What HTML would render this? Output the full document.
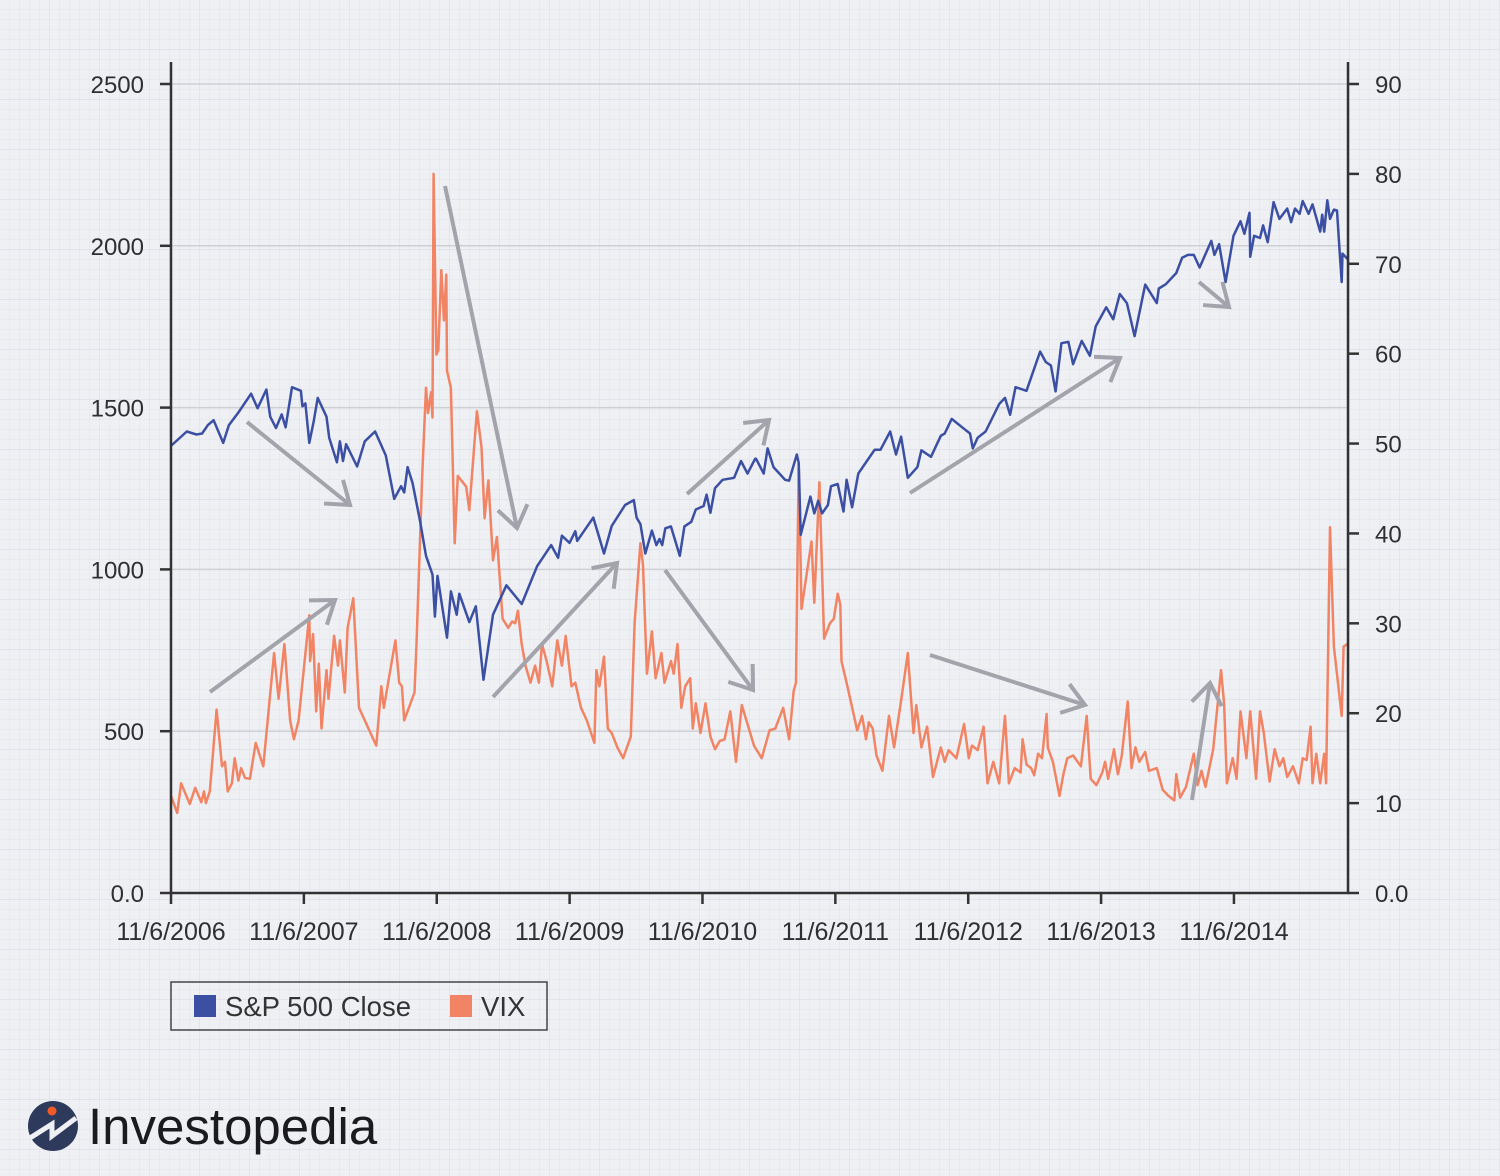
<!DOCTYPE html>
<html><head><meta charset="utf-8">
<style>
html,body{margin:0;padding:0;}
body{width:1500px;height:1176px;overflow:hidden;background:#eff0f4;font-family:"Liberation Sans",sans-serif;}
svg{display:block;}
</style></head>
<body>
<svg id="chart" width="1500" height="1176" viewBox="0 0 1500 1176" xmlns="http://www.w3.org/2000/svg">
<defs>
<pattern id="fine" width="10" height="10" patternUnits="userSpaceOnUse">
<path d="M10 0V10M0 10H10" stroke="#e2e3ea" stroke-width="1" fill="none"/>
</pattern>
<pattern id="coarse" width="50" height="50" patternUnits="userSpaceOnUse">
<path d="M50 0V50M0 50H50" stroke="#dcdde5" stroke-width="1.2" fill="none"/>
</pattern>
</defs>
<rect width="1500" height="1176" fill="#eff0f4"/>
<rect width="1500" height="1176" fill="url(#fine)"/>
<rect width="1500" height="1176" fill="url(#coarse)"/>
<g id="grid"></g>
<g id="series"></g>
<g id="arrows" stroke="#a3a4ab" stroke-width="4" fill="none" stroke-linecap="butt"></g>
<g id="axes"></g>
<g>
<rect x="171" y="982" width="376" height="48" fill="none" stroke="#444" stroke-width="1.5"/>
<rect x="194" y="995" width="22" height="22" fill="#3b4fa3"/>
<text x="225" y="1016" font-size="27.5" fill="#333">S&amp;P 500 Close</text>
<rect x="450" y="995" width="22" height="22" fill="#f08464"/>
<text x="481" y="1016" font-size="27.5" fill="#333">VIX</text>
</g>
<g>
<circle cx="53" cy="1126" r="25" fill="#2e3a5c"/>
<path d="M30 1138 L52 1124 L52 1136 L76 1118" stroke="#eff0f4" stroke-width="5" fill="none"/>
<circle cx="52" cy="1111" r="4.5" fill="#f05a28"/>
<text x="88" y="1144" font-size="51" fill="#1b1b1f">Investopedia</text>
</g>
</svg>
<script>
// Months since 11/6/2006 and S&P 500 close
const spMonths=[0.04,1.43,2.29,2.81,3.33,3.85,4.71,5.23,6.09,7.23,7.82,8.62,8.96,9.48,10.00,10.35,10.93,11.73,11.87,12.14,12.49,12.90,13.25,14.04,14.29,14.98,15.25,15.53,15.81,16.81,17.50,18.43,19.40,20.16,20.78,21.06,21.37,21.82,22.51,23.03,23.62,23.83,24.07,24.93,25.28,25.80,26.04,26.94,27.53,28.22,29.08,30.29,31.67,33.06,34.34,34.96,35.30,35.99,36.51,36.69,38.14,39.11,39.80,41.01,41.80,42.05,42.39,42.84,43.43,43.84,44.12,44.36,44.64,45.15,45.95,46.37,46.99,47.40,48.10,48.37,48.72,49.13,49.82,50.86,51.48,52.07,52.76,52.83,53.53,53.88,54.41,55.46,55.82,56.52,56.69,56.87,57.75,58.10,58.45,58.80,59.33,59.61,60.21,60.74,61.02,61.51,62.07,62.85,63.55,64.08,64.95,65.48,65.94,66.54,67.41,67.77,68.64,69.52,69.88,70.51,71.46,72.16,72.41,72.86,73.57,74.80,75.32,75.78,76.27,77.26,78.49,79.01,79.47,79.89,80.42,81.05,81.47,82.25,82.99,83.51,84.46,85.09,85.69,86.33,87.03,87.98,89.03,89.21,89.84,90.79,91.32,91.84,92.37,92.90,93.95,94.23,94.66,95.25,95.96,96.59,96.94,97.40,97.47,97.82,98.35,98.63,99.05,99.58,100.10,100.81,101.16,101.51,101.93,102.21,102.74,103.09,103.79,103.97,104.15,104.43,104.67,105.03,105.31,105.55,105.73,105.80,106.26];
const spValues=[1383,1426,1417,1420,1446,1461,1391,1446,1485,1543,1498,1556,1472,1437,1479,1439,1563,1552,1504,1513,1391,1459,1530,1472,1407,1331,1396,1335,1387,1318,1396,1426,1352,1218,1257,1238,1316,1266,1147,1042,984,854,980,789,932,860,925,837,886,659,860,951,893,1010,1075,1036,1104,1082,1118,1088,1160,1049,1134,1199,1214,1160,1140,1049,1120,1075,1094,1075,1127,1133,1042,1133,1147,1185,1196,1231,1175,1251,1277,1283,1335,1296,1342,1342,1296,1374,1316,1277,1274,1355,1329,1107,1225,1173,1212,1173,1199,1257,1264,1179,1277,1192,1296,1335,1370,1370,1426,1355,1410,1283,1316,1368,1348,1413,1420,1465,1439,1420,1374,1407,1426,1511,1530,1478,1563,1552,1673,1641,1630,1550,1699,1703,1634,1706,1660,1751,1810,1773,1851,1823,1721,1880,1823,1868,1881,1916,1963,1972,1972,1933,2015,1972,2005,1888,2031,2076,2037,2102,1966,2031,2024,2063,2011,2135,2083,2115,2073,2115,2099,2138,2099,2128,2044,2096,2044,2141,2083,2112,2109,1979,1888,1976,1959];
// Months since 11/6/2006 and VIX
const vixMonths=[0.0,0.56,0.91,1.70,2.19,2.74,2.98,3.15,3.50,4.12,4.61,4.88,5.12,5.50,5.75,6.09,6.33,6.68,7.13,7.65,8.34,9.31,9.72,10.24,10.76,11.10,11.52,12.49,12.56,12.83,13.11,13.35,13.59,14.04,14.22,14.73,15.08,15.25,15.70,15.95,16.46,16.98,17.50,18.02,18.54,18.99,19.23,19.68,20.27,20.61,20.85,21.06,21.99,22.17,22.69,23.03,23.21,23.48,23.62,23.72,23.97,24.14,24.41,24.66,24.86,24.93,25.28,25.62,25.90,26.66,26.94,27.63,28.04,28.32,28.67,29.08,29.43,29.77,29.95,30.46,30.81,31.09,31.33,31.67,32.02,32.47,32.88,33.23,33.51,33.92,34.44,34.89,35.30,35.65,36.17,36.51,37.03,37.55,38.24,38.42,38.69,39.11,39.45,39.80,40.32,40.83,41.53,41.87,42.39,42.63,42.98,43.43,43.77,44.29,44.57,45.16,45.40,45.74,46.09,46.44,46.89,47.13,47.40,47.82,48.27,48.72,49.13,49.55,50.00,50.51,51.03,51.55,52.07,52.65,53.35,54.06,54.58,55.29,55.82,56.24,56.45,56.69,56.94,57.85,58.10,58.56,58.98,59.51,59.86,60.21,60.45,60.56,61.09,61.97,62.42,62.77,63.02,63.37,63.72,64.25,64.85,65.31,66.01,66.54,67.06,67.31,67.77,68.29,68.82,69.52,69.88,70.23,70.93,71.63,72.05,72.34,72.86,73.39,73.74,74.27,74.80,75.32,75.67,76.20,76.73,76.91,77.26,77.68,77.96,78.31,78.66,79.08,79.19,79.65,80.24,80.60,80.95,81.47,82.18,82.70,83.06,83.58,84.11,84.36,84.64,85.17,85.52,85.87,86.40,86.75,87.10,87.45,87.98,88.33,89.03,89.56,90.09,90.61,90.79,91.14,91.67,92.37,92.72,93.07,93.43,94.13,94.83,95.11,95.36,95.89,96.24,96.59,97.12,97.47,98.00,98.35,98.70,99.22,99.68,100.10,100.46,100.81,101.33,101.86,102.21,102.56,102.92,103.09,103.44,103.79,104.15,104.32,104.67,105.03,105.73,105.90,106.25];
const vixValues=[10.8,8.9,12.2,9.9,11.7,10.1,11.3,10.0,11.3,20.4,14.1,14.6,11.3,12.2,15.0,12.5,13.9,12.8,12.7,16.7,14.1,26.7,21.6,27.7,19.2,17.1,19.2,30.9,25.8,28.8,20.2,25.5,18.3,24.8,21.6,28.6,25.3,28.1,22.3,29.5,32.8,20.6,19.2,17.8,16.4,23.0,20.6,23.9,28.1,23.4,23.0,19.2,22.3,27.7,46.4,56.2,53.4,55.7,52.9,80.0,59.9,60.4,69.3,63.7,68.8,58.1,56.2,38.9,46.4,45.2,42.6,53.6,49.6,41.7,45.9,37.0,39.6,33.7,30.5,29.5,30.2,30.0,31.4,27.7,25.3,23.4,25.3,23.4,27.7,25.8,23.0,28.1,25.3,28.6,23.0,23.4,20.6,19.2,16.7,24.8,23.0,26.3,18.3,17.8,16.2,15.0,17.4,30.0,38.9,36.5,24.4,29.1,23.9,26.7,23.4,25.8,24.4,27.7,20.6,23.0,23.9,18.3,21.1,17.8,21.1,17.4,16.0,16.9,17.1,20.2,14.6,20.9,18.8,16.4,15.0,18.1,18.3,20.6,17.1,22.5,23.4,47.8,31.6,39.1,32.3,45.7,28.3,30.0,30.5,33.3,32.1,25.8,23.0,18.1,19.7,17.1,19.0,18.3,15.3,13.6,19.7,16.2,22.0,26.7,17.8,20.9,16.2,18.5,12.9,16.2,14.6,15.9,15.0,18.8,15.0,16.4,15.9,18.5,12.2,14.6,12.2,19.7,12.2,13.9,13.4,17.1,14.3,13.9,13.1,15.5,15.0,19.9,16.2,14.6,10.8,13.2,15.0,15.3,14.1,19.7,12.7,12.0,13.4,14.6,12.7,16.0,13.2,15.3,21.3,13.9,16.2,14.6,15.7,13.6,13.9,11.5,10.8,10.3,13.2,10.6,11.8,15.5,12.0,13.6,11.8,16.0,24.8,21.1,12.2,15.0,12.7,20.2,15.0,20.2,12.7,20.2,17.8,12.4,16.0,14.1,15.0,12.9,14.1,12.2,15.0,14.8,18.5,12.2,15.5,12.2,15.5,12.2,40.7,27.4,19.7,27.4,27.7];
const leftTicks=[0,500,1000,1500,2000,2500];
const leftTickLabels=["0.0","500","1000","1500","2000","2500"];
const rightTicks=[0,10,20,30,40,50,60,70,80,90];
const rightTickLabels=["0.0","10","20","30","40","50","60","70","80","90"];
const xTickMonths=[0,12,24,36,48,60,72,84,96];
const xTickLabels=["11/6/2006","11/6/2007","11/6/2008","11/6/2009","11/6/2010","11/6/2011","11/6/2012","11/6/2013","11/6/2014"];

const NS="http://www.w3.org/2000/svg";
const X0=171,X1=1348,Y0=893,YT=84,MMAX=106.3;
const xS=m=>X0+(m/MMAX)*(X1-X0);
const yL=v=>Y0-(v/2500)*(Y0-YT);
const yR=v=>Y0-(v/90)*(Y0-YT);
function mk(tag,attrs,parent){const e=document.createElementNS(NS,tag);for(const k in attrs)e.setAttribute(k,attrs[k]);parent.appendChild(e);return e;}
const grid=document.getElementById('grid'),axes=document.getElementById('axes'),series=document.getElementById('series'),arrows=document.getElementById('arrows');

leftTicks.forEach((t,i)=>{
  if(t>0){const g=mk('line',{x1:X0,x2:X1,y1:yL(t),y2:yL(t),stroke:'#cfd0d6','stroke-width':1.5},grid);
  
  }
  mk('line',{x1:X0-11,x2:X0,y1:yL(t),y2:yL(t),stroke:'#333','stroke-width':2.5},axes);
  const tx=mk('text',{x:X0-27,y:yL(t)+9,'font-size':24,fill:'#2f2f33','text-anchor':'end'},axes);
  tx.textContent=leftTickLabels[i];
  
  
});
rightTicks.forEach((t,i)=>{
  mk('line',{x1:X1,x2:X1+11,y1:yR(t),y2:yR(t),stroke:'#333','stroke-width':2.5},axes);
  const tx=mk('text',{x:X1+27,y:yR(t)+9,'font-size':24,fill:'#2f2f33'},axes);
  tx.textContent=rightTickLabels[i];
  
  
});
xTickMonths.forEach((m,i)=>{
  mk('line',{x1:xS(m),x2:xS(m),y1:Y0,y2:Y0+11,stroke:'#333','stroke-width':2.5},axes);
  const tx=mk('text',{x:xS(m),y:Y0+47,'font-size':25,fill:'#2f2f33','text-anchor':'middle'},axes);
  tx.textContent=xTickLabels[i];
  
  
});
const la=mk('line',{x1:X0,x2:X0,y1:62,y2:Y0+1,stroke:'#333','stroke-width':2.5},axes);


const ra=mk('line',{x1:X1,x2:X1,y1:62,y2:Y0+1,stroke:'#333','stroke-width':2.5},axes);


const ba=mk('line',{x1:X0-1,x2:X1+1,y1:Y0,y2:Y0,stroke:'#333','stroke-width':2.5},axes);



const vixPts=vixMonths.map((m,i)=>xS(m).toFixed(1)+','+yR(vixValues[i]).toFixed(1)).join(' ');
const vl=mk('polyline',{points:vixPts,fill:'none',stroke:'#f08464','stroke-width':2.5,'stroke-linejoin':'round'},series);


const spPts=spMonths.map((m,i)=>xS(m).toFixed(1)+','+yL(spValues[i]).toFixed(1)).join(' ');
const sl=mk('polyline',{points:spPts,fill:'none',stroke:'#3b4fa3','stroke-width':2.5,'stroke-linejoin':'round'},series);



// decorative trend arrows (annotation positions)
const arrowDefs=[[247,422,350,505],[445,186,517,528],[210,692,335,600],[493,697,617,563],[665,570,753,690],[687,494,769,420],[910,493,1120,358],[930,655,1085,705],[1199,282,1229,307],[1192,800,1210,683]];
arrowDefs.forEach(a=>{
  const [x1,y1,x2,y2]=a;const ang=Math.atan2(y2-y1,x2-x1),L=26,sp=0.62;
  const p1=[x2-L*Math.cos(ang-sp),y2-L*Math.sin(ang-sp)],p2=[x2-L*Math.cos(ang+sp),y2-L*Math.sin(ang+sp)];
  const g=mk('path',{d:`M${x1} ${y1}L${x2} ${y2}M${p1[0]} ${p1[1]}L${x2} ${y2}L${p2[0]} ${p2[1]}`},arrows);
  
  
});
</script>
</body></html>
